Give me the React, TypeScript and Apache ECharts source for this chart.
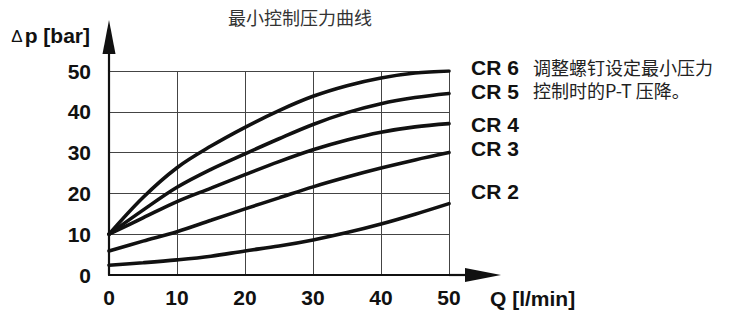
import React, { useEffect, useRef } from "react";
import * as echarts from "echarts";

const xValues = [0, 5, 10, 15, 20, 25, 30, 35, 40, 45, 50];
const seriesNames = ["CR 6", "CR 5", "CR 4", "CR 3", "CR 2"];
const cr6 = [10, 19, 26.3, 31.6, 36.2, 40.3, 43.8, 46.4, 48.3, 49.5, 50];
const cr5 = [10, 15.9, 21.5, 25.9, 29.7, 33.4, 36.9, 39.8, 42, 43.5, 44.5];
const cr4 = [10, 14, 18, 21.3, 24.6, 27.8, 30.7, 33.1, 35, 36.3, 37.1];
const cr3 = [5.9, 8.3, 10.6, 13.4, 16.2, 18.9, 21.6, 24, 26.2, 28.2, 30];
const cr2 = [2.4, 3, 3.7, 4.6, 5.9, 7.1, 8.6, 10.4, 12.5, 14.9, 17.5];
const seriesValues = [cr6, cr5, cr4, cr3, cr2];
const labelOffsets = [-3.6, -2, 0.6, -4.6, -12];

const xTicks = [0, 10, 20, 30, 40, 50];
const yTicks = [0, 10, 20, 30, 40, 50];
const titleText = "最小控制压力曲线";
const yNameSymbol = "Δ";
const yNameRest = "p [bar]";
const xName = "Q [l/min]";
const noteLines = ["调整螺钉设定最小压力", "控制时的P-T 压降。"];

const LATIN = "'Liberation Sans', Arial, sans-serif";
const CJK = "'Noto Sans CJK SC', sans-serif";

export default function App() {
  const ref = useRef<HTMLDivElement>(null);
  useEffect(() => {
    if (!ref.current) return;
    const chart = echarts.init(ref.current, undefined, { renderer: "svg" });
    const option: any = {
      animation: false,
      backgroundColor: "#ffffff",
      grid: { left: 109, right: 282, top: 71, bottom: 37 },
      xAxis: {
        type: "value",
        min: xTicks[0],
        max: xTicks[xTicks.length - 1],
        interval: 10,
        axisLine: { show: true, lineStyle: { color: "#111", width: 2.2 } },
        axisTick: { show: false },
        splitLine: { show: true, lineStyle: { color: "#444", width: 1 } },
        axisLabel: {
          margin: 12,
          fontSize: 21,
          fontWeight: "bold",
          color: "#111",
          fontFamily: LATIN,
        },
      },
      yAxis: {
        type: "value",
        min: yTicks[0],
        max: yTicks[yTicks.length - 1],
        interval: 10,
        axisLine: { show: true, lineStyle: { color: "#111", width: 2.2 } },
        axisTick: { show: false },
        splitLine: { show: true, lineStyle: { color: "#444", width: 1 } },
        axisLabel: {
          margin: 18,
          fontSize: 21,
          fontWeight: "bold",
          color: "#111",
          fontFamily: LATIN,
        },
      },
      series: seriesNames.map((name, i) => ({
        name,
        type: "line",
        smooth: 0.35,
        symbol: "none",
        data: xValues.map((x, j) => [x, seriesValues[i][j]]),
        lineStyle: { color: "#111", width: 3.6, cap: "round" },
        endLabel: {
          show: true,
          formatter: name,
          distance: 22,
          offset: [0, labelOffsets[i]],
          fontSize: 21,
          lineHeight: 17,
          fontWeight: "bold",
          color: "#111",
          fontFamily: LATIN,
        },
      })),
    };
    chart.setOption(option);

    const o = chart.convertToPixel({ gridIndex: 0 }, [0, 0]) as number[];
    const e = chart.convertToPixel({ gridIndex: 0 }, [50, 50]) as number[];
    const ox = o[0];
    const oy = o[1];
    chart.setOption({
      graphic: [
        { type: "line", shape: { x1: ox, y1: e[1], x2: ox, y2: 52 }, style: { stroke: "#111", lineWidth: 2.2 } },
        { type: "polygon", shape: { points: [[ox, 20], [ox - 6.5, 54], [ox + 6.5, 54]] }, style: { fill: "#111" } },
        { type: "line", shape: { x1: e[0], y1: oy, x2: 467, y2: oy }, style: { stroke: "#111", lineWidth: 2.2 } },
        { type: "polygon", shape: { points: [[501, oy], [465, oy - 7], [465, oy + 7]] }, style: { fill: "#111" } },
        {
          type: "text",
          x: 228,
          y: 17,
          style: { text: titleText, font: `18px ${CJK}`, fill: "#333", verticalAlign: "middle" },
        },
        {
          type: "text",
          x: 90,
          y: 35,
          style: {
            text: `{d|${yNameSymbol}}{p|${yNameRest}}`,
            align: "right",
            verticalAlign: "middle",
            rich: {
              d: { fontSize: 17, fontFamily: LATIN, fontWeight: "normal", fill: "#111", padding: [2, 2, 0, 0] },
              p: { fontSize: 21, fontFamily: LATIN, fontWeight: "bold", fill: "#111" },
            },
          },
        },
        {
          type: "text",
          x: 490,
          y: 298.5,
          style: { text: xName, font: `bold 21px ${LATIN}`, fill: "#111", verticalAlign: "middle" },
        },
        {
          type: "text",
          x: 533,
          y: 66.5,
          style: { text: noteLines[0], font: `18px ${CJK}`, fill: "#222", verticalAlign: "middle" },
        },
        {
          type: "text",
          x: 533,
          y: 90,
          style: { text: noteLines[1], font: `18px ${CJK}`, fill: "#222", verticalAlign: "middle" },
        },
      ],
    });
    return () => chart.dispose();
  }, []);
  return (
    <div
      ref={ref}
      style={{ position: "fixed", left: 0, top: 0, width: 731, height: 312 }}
    />
  );
}
